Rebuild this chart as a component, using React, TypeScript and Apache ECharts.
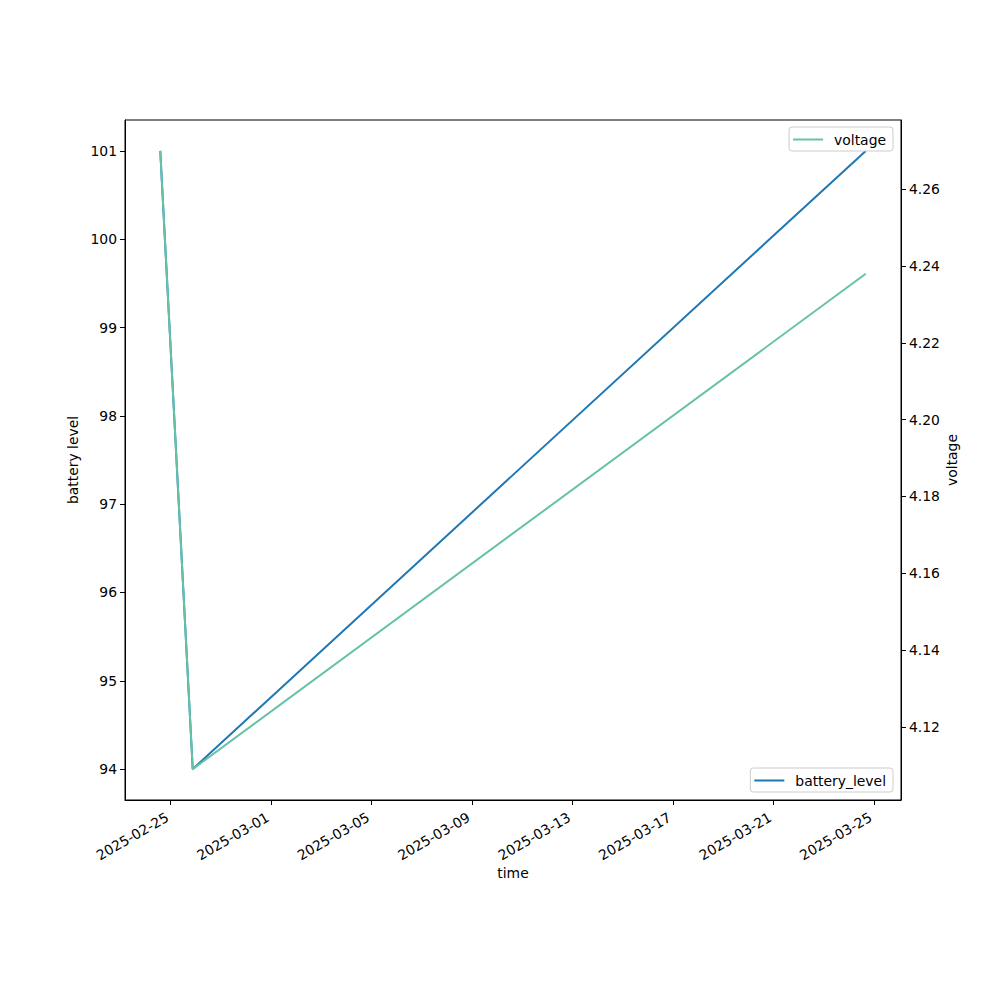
import React, { useEffect, useRef } from "react";
import * as echarts from "echarts";

const timestamps = ["2025-02-24T14:00:00Z", "2025-02-25T21:00:00Z", "2025-03-24T16:00:00Z"];
const batteryLevel = [101, 94, 101];
const voltage = [4.27, 4.109, 4.238];
const xTickDates = [
  "2025-02-25", "2025-03-01", "2025-03-05", "2025-03-09",
  "2025-03-13", "2025-03-17", "2025-03-21", "2025-03-25",
];
const batteryTicks = [94, 95, 96, 97, 98, 99, 100, 101];
const voltageTicks = [4.12, 4.14, 4.16, 4.18, 4.2, 4.22, 4.24, 4.26];

const FONT = "DejaVu Sans";
const FS = 13.9;

function padRange(vals: number[]) {
  const lo = Math.min(...vals);
  const hi = Math.max(...vals);
  const m = (hi - lo) * 0.05;
  return [lo - m, hi + m];
}

function fmtDate(v: number) {
  const d = new Date(v);
  const p = (n: number) => (n < 10 ? "0" + n : "" + n);
  return d.getUTCFullYear() + "-" + p(d.getUTCMonth() + 1) + "-" + p(d.getUTCDate());
}

export default function App() {
  const ref = useRef<HTMLDivElement>(null);
  useEffect(() => {
    if (!ref.current) return;
    const chart = echarts.init(ref.current, undefined, { renderer: "svg" });
    const xs = timestamps.map((t) => Date.parse(t));
    const [xmin, xmax] = padRange(xs);
    const [bmin, bmax] = padRange(batteryLevel);
    const [vmin, vmax] = padRange(voltage);
    const xTicks = xTickDates.map((d) => Date.parse(d + "T00:00:00Z"));
    const textStyle = { color: "#000", fontFamily: FONT, fontSize: FS };
    const legendBase = {
      orient: "horizontal" as const,
      right: 107,
      icon: "rect",
      itemWidth: 30,
      itemHeight: 2,
      padding: [5, 7, 4, 4],
      backgroundColor: "rgba(255,255,255,0.8)",
      borderColor: "#cccccc",
      borderWidth: 1,
      borderRadius: 3,
      textStyle: { ...textStyle, lineHeight: 15, padding: [0, 0, 0, 6] },
    };
    chart.setOption({
      animation: false,
      backgroundColor: "#fff",
      grid: {
        left: 125,
        right: 99,
        top: 120,
        bottom: 200,
        show: true,
        borderColor: "#000",
        borderWidth: 1,
        backgroundColor: "transparent",
      },
      xAxis: {
        type: "value",
        min: xmin,
        max: xmax,
        name: "time",
        nameLocation: "middle",
        nameGap: 66,
        nameMoveOverlap: false,
        nameTextStyle: textStyle,
        axisLine: { show: true, onZero: false, lineStyle: { color: "#000", width: 1 } },
        axisTick: { show: true, length: 5, lineStyle: { color: "#000" }, customValues: xTicks },
        axisLabel: {
          ...textStyle,
          rotate: 30,
          margin: 14,
          padding: [0, 4, 0, 0],
          customValues: xTicks,
          formatter: (v: number) => fmtDate(v),
        },
        splitLine: { show: false },
      },
      yAxis: [
        {
          type: "value",
          min: bmin,
          max: bmax,
          name: "battery level",
          nameLocation: "middle",
          nameGap: 45,
          nameMoveOverlap: false,
          nameTextStyle: textStyle,
          axisLine: { show: true, lineStyle: { color: "#000", width: 1 } },
          axisTick: { show: true, length: 5, lineStyle: { color: "#000" }, customValues: batteryTicks },
          axisLabel: { ...textStyle, margin: 8, customValues: batteryTicks, formatter: (v: number) => String(v) },
          splitLine: { show: false },
        },
        {
          type: "value",
          position: "right",
          min: vmin,
          max: vmax,
          name: "voltage",
          nameLocation: "middle",
          nameGap: 44,
          nameMoveOverlap: false,
          nameTextStyle: textStyle,
          axisLine: { show: true, lineStyle: { color: "#000", width: 1 } },
          axisTick: { show: true, length: 5, lineStyle: { color: "#000" }, customValues: voltageTicks },
          axisLabel: { ...textStyle, margin: 8, customValues: voltageTicks, formatter: (v: number) => v.toFixed(2) },
          splitLine: { show: false },
        },
      ],
      legend: [
        { ...legendBase, top: 127, data: ["voltage"] },
        { ...legendBase, top: 768, data: ["battery_level"] },
      ],
      series: [
        {
          name: "battery_level",
          type: "line",
          yAxisIndex: 0,
          symbol: "none",
          color: "#1f77b4",
          lineStyle: { color: "#1f77b4", width: 2 },
          data: xs.map((x, i) => [x, batteryLevel[i]]),
        },
        {
          name: "voltage",
          type: "line",
          yAxisIndex: 1,
          symbol: "none",
          color: "#66c2a5",
          lineStyle: { color: "#66c2a5", width: 2 },
          data: xs.map((x, i) => [x, voltage[i]]),
        },
      ],
    });
    return () => chart.dispose();
  }, []);
  return (
    <div
      ref={ref}
      style={{ position: "fixed", left: 0, top: 0, width: 1000, height: 1000, background: "#fff" }}
    />
  );
}
